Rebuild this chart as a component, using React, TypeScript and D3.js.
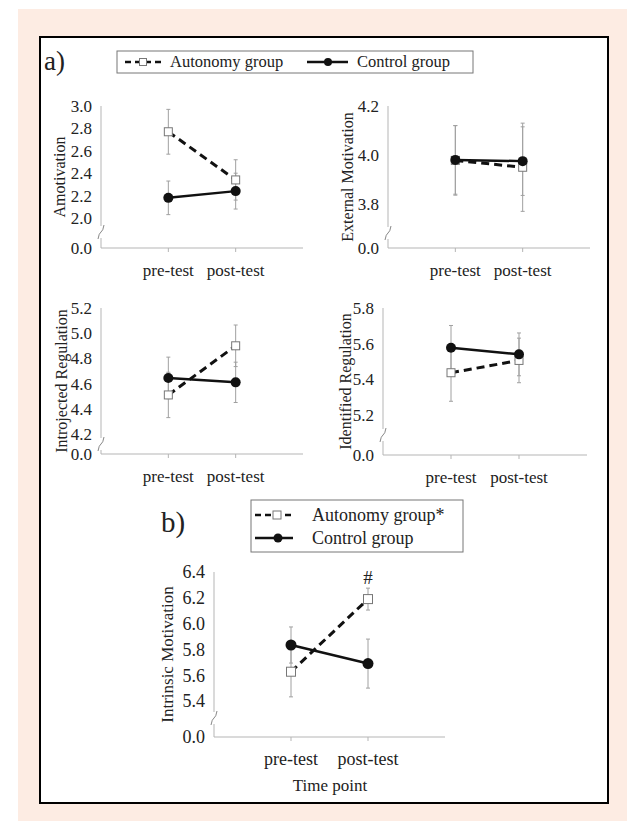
import React from 'react';
import * as d3 from 'd3';

// categories and values (means and error half-widths)
const categories = ['pre-test', 'post-test'];

const amotivationAut = [2.77, 2.34];
const amotivationAutErr = [0.2, 0.18];
const amotivationCtl = [2.18, 2.24];
const amotivationCtlErr = [0.15, 0.16];

const externalAut = [3.978, 3.95];
const externalAutErr = [0.142, 0.18];
const externalCtl = [3.98, 3.975];
const externalCtlErr = [0.14, 0.14];

const introjectedAut = [4.51, 4.9];
const introjectedAutErr = [0.18, 0.165];
const introjectedCtl = [4.645, 4.61];
const introjectedCtlErr = [0.165, 0.16];

const identifiedAut = [5.437, 5.506];
const identifiedAutErr = [0.16, 0.125];
const identifiedCtl = [5.577, 5.54];
const identifiedCtlErr = [0.125, 0.12];

const intrinsicAut = [5.627, 6.19];
const intrinsicAutErr = [0.195, 0.085];
const intrinsicCtl = [5.834, 5.69];
const intrinsicCtlErr = [0.14, 0.19];

const amotivationTicks = [2.0, 2.2, 2.4, 2.6, 2.8, 3.0];
const externalTicks = [3.8, 4.0, 4.2];
const introjectedTicks = [4.2, 4.4, 4.6, 4.8, 5.0, 5.2];
const identifiedTicks = [5.2, 5.4, 5.6, 5.8];
const intrinsicTicks = [5.4, 5.6, 5.8, 6.0, 6.2, 6.4];

const FONT = '"Liberation Serif", "Times New Roman", serif';
const TEXT = '#222';
const AXIS = '#b5b5b5';
const ERR = '#a0a0a0';

function Square({ x, y, s }) {
  return <rect x={x - s / 2} y={y - s / 2} width={s} height={s} fill="#fff" stroke="#777" strokeWidth={1} />;
}

function Panel({ title, ticks, aut, autErr, ctl, ctlErr, g, mark, titleX }) {
  const x = d3.scalePoint().domain(['start', ...categories, 'end']).range([g.left, g.right]);
  const y = d3.scaleLinear().domain([ticks[0], ticks[ticks.length - 1]]).range([g.bottom, g.top]);
  const line = d3.line<number>().x((d, i) => x(categories[i])).y(d => y(d));
  const fs = g.fs || 16;
  const sq = g.sq || 8;
  const r = g.r || 5;
  const b = g.brk;
  const ax = g.left;

  const errBars = (vals, errs, key) => vals.map((v, i) => {
    const cx = x(categories[i]);
    return (
      <g key={key + i} stroke={ERR} strokeWidth={1}>
        <line x1={cx} x2={cx} y1={y(v - errs[i])} y2={y(v + errs[i])} />
        <line x1={cx - 2} x2={cx + 2} y1={y(v - errs[i])} y2={y(v - errs[i])} />
        <line x1={cx - 2} x2={cx + 2} y1={y(v + errs[i])} y2={y(v + errs[i])} />
      </g>
    );
  });

  return (
    <g>
      {/* y axis with break */}
      <path d={`M${ax},${g.top} V${b - 6} M${ax},${b + 6} V${g.base}`} stroke={AXIS} fill="none" />
      <path d={`M${ax - 3},${b + 7} Q${ax - 2},${b + 1} ${ax},${b} Q${ax + 2},${b - 1} ${ax + 3},${b - 7}`} stroke="#888" fill="none" />
      {/* x axis */}
      <line x1={ax} x2={g.right} y1={g.base} y2={g.base} stroke={AXIS} />
      {categories.map(c => (
        <line key={c} x1={x(c)} x2={x(c)} y1={g.base} y2={g.base + 4} stroke={AXIS} />
      ))}
      {ticks.map(t => (
        <text key={t} x={ax - 9} y={y(t)} dy="0.35em" textAnchor="end" fontSize={fs + 1} fontFamily={FONT} fill={TEXT}>
          {t.toFixed(1)}
        </text>
      ))}
      <text x={ax - 9} y={g.base} dy="0.35em" textAnchor="end" fontSize={fs + 1} fontFamily={FONT} fill={TEXT}>0.0</text>
      {categories.map(c => (
        <text key={c} x={x(c)} y={g.base + 28} textAnchor="middle" fontSize={fs + 1} fontFamily={FONT} fill={TEXT}>{c}</text>
      ))}
      <text transform={`translate(${titleX},${(g.top + g.base) / 2}) rotate(-90)`} dy="0.35em" textAnchor="middle"
        fontSize={fs} fontFamily={FONT} fill={TEXT}>{title}</text>

      {errBars(aut, autErr, 'a')}
      {errBars(ctl, ctlErr, 'c')}

      <path d={line(aut)} fill="none" stroke="#111" strokeWidth={3} strokeDasharray="8,5" />
      <path d={line(ctl)} fill="none" stroke="#111" strokeWidth={2.5} />
      {aut.map((v, i) => <Square key={'s' + i} x={x(categories[i])} y={y(v)} s={sq} />)}
      {ctl.map((v, i) => <circle key={'d' + i} cx={x(categories[i])} cy={y(v)} r={r} fill="#111" />)}
      {mark && (
        <text x={x(categories[1])} y={y(ticks[ticks.length - 1])} dy="0.65em" textAnchor="middle" fontSize={19} fontFamily={FONT} fill={TEXT}>{mark}</text>
      )}
    </g>
  );
}

export default function App() {
  return (
    <div style={{ position: 'absolute', left: 0, top: 0 }}>
      <svg width={627} height={821} style={{ display: 'block' }}>
        <rect x={18} y={9} width={609} height={812} fill="#fdece3" />
        <rect x={40} y={37} width={568} height={766} fill="#fff" stroke="#000" strokeWidth={2} />

        <text x={44} y={70} fontSize={27} fontFamily={FONT} fill={TEXT}>a)</text>
        <rect x={117} y={51} width={356} height={22} fill="#fff" stroke="#777" />
        <line x1={125} x2={162} y1={62} y2={62} stroke="#111" strokeWidth={2.5} strokeDasharray="6,4" />
        <Square x={143} y={62} s={7} />
        <text x={170} y={67} fontSize={16.5} fontFamily={FONT} fill={TEXT}>Autonomy group</text>
        <line x1={307} x2={348} y1={62} y2={62} stroke="#111" strokeWidth={2.5} />
        <circle cx={328} cy={62} r={4} fill="#111" />
        <text x={357} y={67} fontSize={16.5} fontFamily={FONT} fill={TEXT}>Control group</text>

        <Panel title="Amotivation" ticks={amotivationTicks} aut={amotivationAut} autErr={amotivationAutErr}
          ctl={amotivationCtl} ctlErr={amotivationCtlErr} titleX={59}
          g={{ left: 101, right: 303, top: 106, bottom: 218, brk: 232, base: 248 }} />
        <Panel title="External Motivation" ticks={externalTicks} aut={externalAut} autErr={externalAutErr}
          ctl={externalCtl} ctlErr={externalCtlErr} titleX={347}
          g={{ left: 388, right: 590, top: 106, bottom: 204, brk: 233, base: 248 }} />
        <Panel title="Introjected Regulation" ticks={introjectedTicks} aut={introjectedAut} autErr={introjectedAutErr}
          ctl={introjectedCtl} ctlErr={introjectedCtlErr} titleX={61}
          g={{ left: 101, right: 303, top: 308, bottom: 434, brk: 444, base: 454 }} />
        <Panel title="Identified Regulation" ticks={identifiedTicks} aut={identifiedAut} autErr={identifiedAutErr}
          ctl={identifiedCtl} ctlErr={identifiedCtlErr} titleX={345}
          g={{ left: 383, right: 587, top: 308, bottom: 415, brk: 435, base: 455 }} />

        <text x={161} y={532} fontSize={29} fontFamily={FONT} fill={TEXT}>b)</text>
        <rect x={251} y={500} width={212} height={52} fill="#fff" stroke="#777" />
        <line x1={255} x2={293} y1={515} y2={515} stroke="#111" strokeWidth={2.5} strokeDasharray="6,4" />
        <Square x={277} y={515} s={8} />
        <text x={312} y={521} fontSize={18} fontFamily={FONT} fill={TEXT}>Autonomy group*</text>
        <line x1={255} x2={293} y1={538} y2={538} stroke="#111" strokeWidth={2.5} />
        <circle cx={278} cy={538} r={4.5} fill="#111" />
        <text x={312} y={544} fontSize={18} fontFamily={FONT} fill={TEXT}>Control group</text>

        <Panel title="Intrinsic Motivation" ticks={intrinsicTicks} aut={intrinsicAut} autErr={intrinsicAutErr}
          ctl={intrinsicCtl} ctlErr={intrinsicCtlErr} titleX={167} mark="#"
          g={{ left: 214, right: 445, top: 572, bottom: 701, brk: 718, base: 737, fs: 17, sq: 9, r: 5.5 }} />
        <text x={330} y={791} textAnchor="middle" fontSize={17} fontFamily={FONT} fill={TEXT}>Time point</text>
      </svg>
    </div>
  );
}
